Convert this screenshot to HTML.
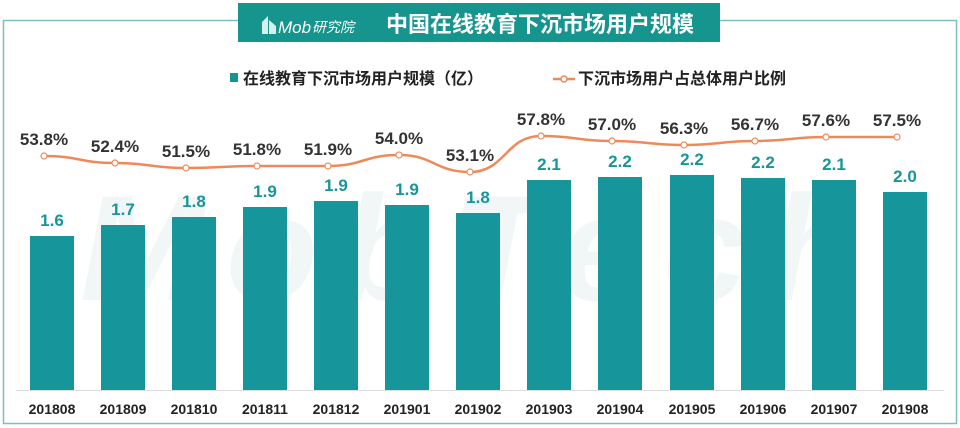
<!DOCTYPE html><html><head><meta charset="utf-8"><style>
body{margin:0;width:960px;height:428px;background:#fff;overflow:hidden;font-family:"Liberation Sans","Noto Sans CJK SC",sans-serif}
</style></head><body>
<svg width="960" height="428" xmlns="http://www.w3.org/2000/svg" style="display:block">
<rect x="3.5" y="20.5" width="953" height="403" fill="none" stroke="#7fbfbd" stroke-width="1.5"/>
<text x="80" y="300" font-size="150" font-weight="bold" font-style="italic" fill="#f0f7f6" font-family="Liberation Sans,sans-serif" textLength="780">MobTech</text>
<rect x="238" y="3" width="482" height="39" fill="#16958f"/>
<path d="M262 34 L262 22 L268 16 L268 34 Z M269 34 L269 20 L276 26 L276 34Z" fill="#d6efed"/>
<text x="278" y="33" font-size="17" font-style="italic" fill="#fff" font-family="Liberation Sans,sans-serif">Mob</text>
<text x="312" y="32" font-size="14" font-style="italic" fill="#fff" font-family="Noto Sans CJK SC,sans-serif">研究院</text>
<text x="386" y="32" font-size="22" font-weight="bold" fill="#fff" font-family="Noto Sans CJK SC,sans-serif">中国在线教育下沉市场用户规模</text>
<rect x="230" y="73" width="8" height="9" fill="#16958f"/>
<text x="243" y="84" font-size="16" font-weight="bold" fill="#222" font-family="Noto Sans CJK SC,sans-serif">在线教育下沉市场用户规模（亿）</text>
<line x1="553" y1="79" x2="575" y2="79" stroke="#ee8a5a" stroke-width="2.5"/>
<circle cx="564" cy="79" r="3" fill="#fff" stroke="#ee8a5a" stroke-width="1.5"/>
<text x="578" y="84" font-size="16" font-weight="bold" fill="#222" font-family="Noto Sans CJK SC,sans-serif">下沉市场用户占总体用户比例</text>
<line x1="16" y1="390.5" x2="944" y2="390.5" stroke="#ddd"/>
</svg>
<script>
var ns="http://www.w3.org/2000/svg",s=document.querySelector('svg');
var cx=[52,123,194,265,336,407,478,549,620,692,763,834,905];
var tops=[236,225,217,207,201,205,213,180,177,175,178,180,192];
var bv=["1.6","1.7","1.8","1.9","1.9","1.9","1.8","2.1","2.2","2.2","2.2","2.1","2.0"];
var ly=[156,163,168,166,166,155,172,136,141,145,141,137,137];
var lv=["53.8%","52.4%","51.5%","51.8%","51.9%","54.0%","53.1%","57.8%","57.0%","56.3%","56.7%","57.6%","57.5%"];
var xl=["201808","201809","201810","201811","201812","201901","201902","201903","201904","201905","201906","201907","201908"];
function el(t,a,txt){var e=document.createElementNS(ns,t);for(var k in a)e.setAttribute(k,a[k]);if(txt)e.textContent=txt;s.appendChild(e);return e;}
for(var i=0;i<13;i++){
el('rect',{x:cx[i]-22,y:tops[i],width:44,height:390-tops[i],fill:'#16959a'});
el('text',{x:cx[i],y:tops[i]-10,'text-anchor':'middle','font-size':17,'font-weight':'bold',fill:'#16959a'},bv[i]);
el('text',{x:cx[i],y:414,'text-anchor':'middle','font-size':14,'font-weight':'bold',fill:'#222'},xl[i]);
}
var d="M"+cx[0]+" "+ly[0];
for(var i=1;i<13;i++){var m=(cx[i-1]+cx[i])/2;d+=" C"+m+" "+ly[i-1]+" "+m+" "+ly[i]+" "+cx[i]+" "+ly[i];}
el('path',{d:d,transform:'translate(-8,0)',fill:'none',stroke:'#ee8a5a','stroke-width':2.5});
for(var i=0;i<13;i++){
el('circle',{cx:cx[i]-8,cy:ly[i],r:3,fill:'#fff',stroke:'#ee8a5a','stroke-width':1.2});
el('text',{x:cx[i]-8,y:ly[i]-11,'text-anchor':'middle','font-size':17,fill:'#333','font-weight':'bold'},lv[i]);
}
</script>
</body></html>
